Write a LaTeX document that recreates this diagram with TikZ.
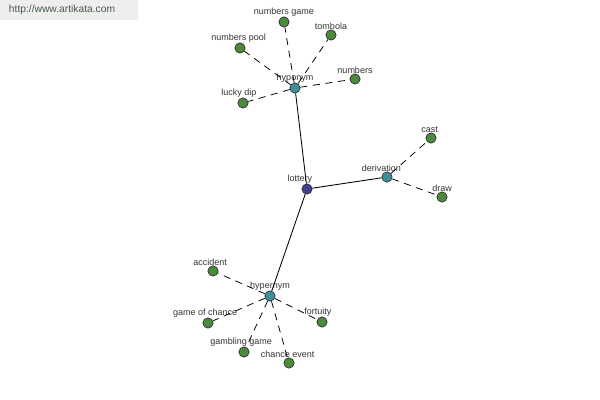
\documentclass[tikz,border=0pt]{standalone}
\usepackage{fontspec}
\setmainfont{Liberation Sans}
\usetikzlibrary{calc}

\definecolor{leafgreen}{HTML}{4A8A3C}
\definecolor{hubteal}{HTML}{3E8F9C}
\definecolor{rootblue}{HTML}{3F418E}
\definecolor{lblgray}{HTML}{333333}
\definecolor{markgray}{HTML}{EEEEEE}
\definecolor{marktext}{HTML}{4A5A48}

\tikzset{
    dot/.style={circle, draw=black!80, line width=0.5pt, inner sep=0pt, minimum size=7.3pt},
    leaf/.style={dot, fill=leafgreen},
    hub/.style={dot, fill=hubteal},
    root/.style={dot, fill=rootblue},
    lbl/.style={font=\fontsize{6.4}{7}\selectfont, text=lblgray, inner sep=0.5pt},
    rel/.style={line width=0.6pt},
    sub/.style={line width=0.55pt, dash pattern=on 5pt off 4pt}
}

\begin{document}
\begin{tikzpicture}[x=0.025cm, y=-0.025cm]
        \useasboundingbox (0,0) rectangle (600,400);
        \fill[markgray] (0,0) rectangle (138,20);
        \node[anchor=west, font=\fontsize{7.3}{8}\selectfont, text=marktext] (site) at (4,10) {http://www.artikata.com};

        \node[root, label={[lbl, label distance=-0.5pt, xshift=-5pt]above:lottery}] (lottery) at (307,189) {};
        \node[hub, label={[lbl, label distance=-0.5pt]above:hyponym}] (hypo) at (295,88) {};
        \node[hub, label={[lbl, label distance=-0.5pt, xshift=-4pt]above:derivation}] (deriv) at (387,177) {};
        \node[hub, label={[lbl, label distance=-0.5pt]above:hypernym}] (hyper) at (270,296) {};

        \node[leaf, label={[lbl, label distance=-0.5pt]above:numbers game}] (numgame) at (284,22) {};
        \node[leaf, label={[lbl, label distance=-0.5pt]above:tombola}] (tombola) at (331,35) {};
        \node[leaf, label={[lbl, label distance=-0.5pt, xshift=-1pt]above:numbers pool}] (numpool) at (240,48) {};
        \node[leaf, label={[lbl, label distance=-0.5pt]above:numbers}] (numbers) at (355,79) {};
        \node[leaf, label={[lbl, label distance=-0.5pt, xshift=-3pt]above:lucky dip}] (luckydip) at (243,103) {};

        \node[leaf, label={[lbl, label distance=-0.5pt, xshift=-1pt]above:cast}] (cast) at (431,138) {};
        \node[leaf, label={[lbl, label distance=-0.5pt]above:draw}] (draw) at (442,197) {};

        \node[leaf, label={[lbl, label distance=-0.5pt, xshift=-2pt]above:accident}] (accident) at (213,271) {};
        \node[leaf, label={[lbl, label distance=-0.5pt, xshift=-2pt]above:game of chance}] (gamechance) at (208,323) {};
        \node[leaf, label={[lbl, label distance=-0.5pt, xshift=-3pt]above:fortuity}] (fortuity) at (322,322) {};
        \node[leaf, label={[lbl, label distance=-0.5pt, xshift=-2pt]above:gambling game}] (gambling) at (244,352) {};
        \node[leaf, label={[lbl, label distance=-0.5pt, xshift=-1pt]above:chance event}] (chance) at (289,363) {};

        % relations from the root
        \draw[rel] (lottery) -- (hypo);
        \draw[rel] (lottery) -- (deriv);
        \draw[rel] (lottery) -- (hyper);

        % words under each relation
        \foreach \w in {numgame, tombola, numpool, numbers, luckydip}
            \draw[sub] (hypo) -- (\w);
        \foreach \w in {cast, draw}
            \draw[sub] (deriv) -- (\w);
        \foreach \w in {accident, gamechance, fortuity, gambling, chance}
            \draw[sub] (hyper) -- (\w);
    \end{tikzpicture}
\end{document}
